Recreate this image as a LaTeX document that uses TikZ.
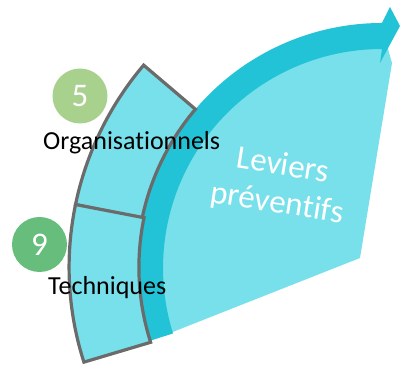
\documentclass[tikz,border=0pt]{standalone}
\usepackage{fontspec}
\setmainfont{Carlito}[Ligatures=NoCommon]
\begin{document}
\begin{tikzpicture}[x=1pt,y=1pt]
\definecolor{lightcy}{HTML}{77E0EA}
\definecolor{darkcy}{HTML}{22C3D6}
\definecolor{segline}{HTML}{6B6B6B}
\definecolor{greenA}{HTML}{A9D18E}
\definecolor{greenB}{HTML}{66BD7C}
\tikzset{
  segment/.style={fill=lightcy, draw=segline, line width=3.2pt, line join=miter},
  numcirc/.style={circle, minimum size=55pt, inner sep=0pt, text=white, font=\fontsize{33}{33}\selectfont},
  lbl/.style={anchor=base west, inner sep=0pt, font=\fontsize{26}{26}\selectfont},
  levtext/.style={text=white, inner sep=0pt, rotate=-9, font=\fontsize{33}{33}\selectfont},
}
\useasboundingbox (0,0) rectangle (400,367);
\coordinate (C) at (382,99);
% light wedge
\fill[lightcy] ([shift={(197.4:240)}]C) arc[start angle=197.4, end angle=90, radius=240]
  -- (392,304) -- (360,109) -- cycle;
% dark band with arrow head
\fill[darkcy] ([shift={(197.4:245)}]C) arc[start angle=197.4, end angle=90, radius=245]
  -- (390,360) -- (400,341) -- (380,304) -- ([shift={(90:219)}]C)
  arc[start angle=90, end angle=197.4, radius=219] -- cycle;
% segments
\draw[segment] ([shift={(139.6:313)}]C) arc[start angle=139.6, end angle=168.3, radius=313]
  -- ([shift={(168.3:245)}]C) arc[start angle=168.3, end angle=139.6, radius=245] -- cycle;
\draw[segment] ([shift={(168.3:313)}]C) arc[start angle=168.3, end angle=197.8, radius=310]
  -- ([shift={(197.8:243)}]C) arc[start angle=197.8, end angle=168.3, radius=245] -- cycle;
% circles
\node[numcirc, fill=greenA] (n5) at (80,271) {5};
\node[numcirc, fill=greenB] (n9) at (39.5,122.5) {9};
% labels
\node[lbl] (org) at (43,217) {Organisationnels};
\node[lbl] (tech) at (48,72) {Techniques};
\node[levtext] (lev1) at (283,203) {Leviers};
\node[levtext] (lev2) at (277,163) {préventifs};
\end{tikzpicture}
\end{document}
